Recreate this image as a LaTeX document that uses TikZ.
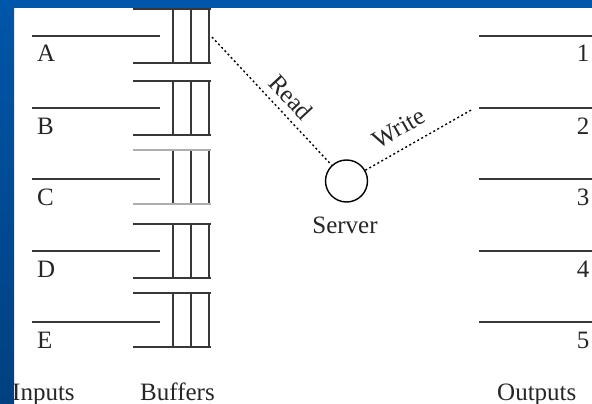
\documentclass[tikz,border=0pt]{standalone}
\usepackage{fontspec}
\setmainfont{Liberation Serif}
\definecolor{frameblue}{RGB}{0,86,168}
\definecolor{framedark}{RGB}{0,64,128}
\begin{document}
\begin{tikzpicture}[x=1pt,y=-1pt,
  lbl/.style={inner sep=0pt, font=\fontsize{25}{30}\selectfont, text=black!85},
  wire/.style={draw=black!78, line width=2.2pt},
  graywire/.style={draw=black!32, line width=2.4pt},
  rw/.style={draw=black, line width=1.4pt, dash pattern=on 2pt off 2.6pt},
  srv/.style={circle, draw=black, line width=1.4pt, minimum size=42pt, inner sep=0pt}]
\useasboundingbox (0,0) rectangle (592,404);
\fill[white] (0,0) rectangle (592,404);
% input and output lines with labels
\foreach \y/\a/\n [count=\i] in {36/A/1,108/B/2,179/C/3,251/D/4,322/E/5}{
  \draw[wire] (32,\y) -- (160,\y);
  \draw[wire] (479,\y) -- (592,\y);
  \node[lbl, anchor=base west] (in\i) at (37,\y+26) {\a};
  \node[lbl, anchor=base] (out\i) at (583,\y+26) {\n};
}
% buffers
\foreach \t/\s in {9/wire,81/wire,150/graywire,224/wire,293/wire}{
  \foreach \x in {173,191,209}{\draw[wire] (\x,\t) -- (\x,\t+54);}
  \draw[\s] (133,\t) -- (211,\t);
  \draw[\s] (133,\t+54) -- (211,\t+54);
}
% server
\node[srv] (server) at (346.5,181) {};
\node[lbl, anchor=base] (srvlbl) at (345,233) {Server};
\coordinate (bufA) at (212,37);
\coordinate (outB) at (473,109);
\draw[rw] (bufA) -- node[lbl, sloped, pos=0.56, above=7pt] {Read} (server);
\draw[rw] (server) -- node[lbl, sloped, pos=0.40, above=11pt] {Write} (outB);
% column titles
\node[lbl, anchor=base west] (tin) at (12,400) {Inputs};
\node[lbl, anchor=base west] (tbuf) at (140,400) {Buffers};
\node[lbl, anchor=base west] (tout) at (497,400) {Outputs};
% blue frame
\shade[top color=frameblue, bottom color=framedark] (0,0) rectangle (14,404);
\fill[frameblue] (0,0) rectangle (592,8);
\end{tikzpicture}
\end{document}
